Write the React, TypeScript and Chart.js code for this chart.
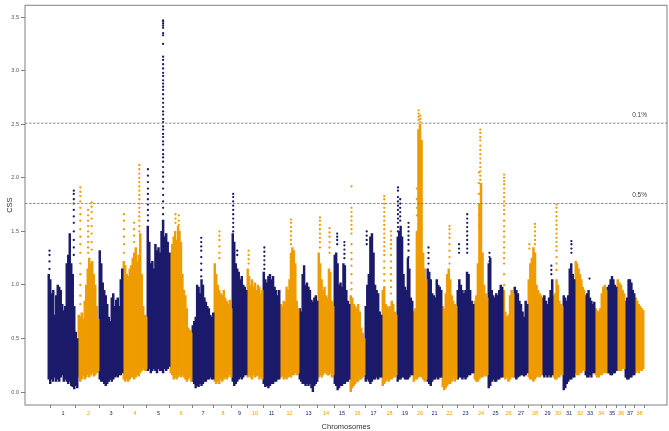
import React, { useEffect, useRef } from "react";
import { Chart, registerables } from "chart.js";

Chart.register(...registerables);

const NAVY = "#1b1a6b";
const ORANGE = "#ef9c00";

const chromosomes = [
  "1", "2", "3", "4", "5", "6", "7", "8", "9", "10", "11", "12", "13", "14", "15", "16", "17", "18", "19",
  "20", "21", "22", "23", "24", "25", "26", "27", "28", "29", "30", "31", "32", "33", "34", "35", "36", "37", "38",
];

const chromLengths = [
  120, 84, 96, 96, 92, 88, 88, 72, 60, 64, 68, 76, 76, 64, 64, 60, 68, 60, 64,
  56, 60, 60, 68, 56, 60, 44, 56, 56, 44, 40, 48, 40, 40, 48, 40, 32, 40, 36,
];

// upper envelope of the dense CSS cloud, successive windows along each chromosome
const bandHigh = [
  [1.1, 1.05, 0.92, 0.95, 0.72, 0.9, 1.0, 0.98, 0.95, 0.82, 0.76, 0.8, 1.2, 1.28, 1.48, 1.2, 1.1, 0.8, 0.56, 0.5],
  [0.72, 0.7, 0.74, 0.68, 0.85, 1.0, 1.15, 1.25, 1.2, 1.22, 1.1, 1.0, 0.8, 0.68],
  [1.32, 1.2, 1.02, 0.95, 0.9, 0.82, 0.7, 0.66, 0.88, 0.92, 0.8, 0.86, 0.88, 0.8, 1.05, 1.15],
  [1.22, 1.18, 1.1, 1.08, 1.15, 1.18, 1.25, 1.3, 1.35, 1.22, 1.28, 1.48, 1.1, 0.8, 0.72, 0.7],
  [1.55, 1.4, 1.2, 1.22, 1.15, 1.38, 1.32, 1.35, 1.3, 1.5, 1.6, 1.45, 1.48, 1.4, 1.3],
  [1.3, 1.38, 1.45, 1.5, 1.42, 1.55, 1.5, 1.4, 1.1, 0.95, 0.9, 0.78, 0.6, 0.58, 0.55],
  [0.62, 0.66, 0.7, 1.0, 0.98, 0.92, 1.05, 1.0, 0.88, 0.84, 0.8, 0.78, 0.72, 0.7, 0.74],
  [1.2, 1.1, 1.0, 0.95, 0.92, 0.9, 0.95, 0.88, 0.85, 0.82, 0.86, 0.78],
  [1.48, 1.4, 1.2, 1.15, 1.12, 1.05, 1.08, 1.0, 0.98, 0.95],
  [1.15, 1.08, 1.0, 1.05, 0.98, 1.02, 0.95, 1.0, 0.98, 0.92, 0.95],
  [1.12, 1.05, 1.02, 1.08, 1.1, 1.05, 1.08, 0.98, 0.95, 0.9, 0.95],
  [0.82, 0.8, 0.85, 0.84, 0.98, 0.95, 1.05, 1.3, 1.35, 1.32, 1.2, 0.85, 0.78],
  [0.78, 0.75, 1.1, 1.18, 1.0, 1.02, 0.98, 0.95, 0.86, 0.84, 0.88, 0.9, 0.85],
  [1.3, 1.2, 1.05, 0.95, 0.98, 0.9, 0.88, 1.15, 1.12, 0.85, 0.8],
  [1.28, 1.3, 1.2, 1.0, 1.02, 0.98, 1.2, 1.18, 0.95, 0.85, 0.82],
  [0.9, 0.88, 0.82, 0.8, 0.78, 0.82, 0.75, 0.6, 0.55, 0.5],
  [0.8, 1.0, 1.1, 1.45, 1.48, 1.3, 1.0, 0.95, 0.92, 0.75, 0.72],
  [0.95, 0.98, 0.82, 0.8, 0.78, 0.8, 0.85, 0.82, 0.75, 0.72],
  [1.45, 1.5, 1.55, 1.45, 1.1, 0.98, 0.95, 1.25, 1.15, 0.88, 0.85],
  [0.75, 0.78, 1.5, 2.45, 2.5, 2.35, 1.3, 1.15, 1.05],
  [1.15, 1.12, 1.05, 0.92, 0.9, 0.88, 1.05, 1.0, 0.98, 0.95],
  [0.8, 0.78, 0.92, 1.1, 1.15, 1.05, 0.9, 0.85, 0.82, 0.8],
  [0.95, 1.05, 1.0, 0.95, 0.92, 0.95, 1.12, 1.1, 0.95, 0.85, 0.82],
  [0.85, 0.9, 1.2, 1.75, 1.95, 1.3, 1.0, 0.92, 0.88],
  [1.2, 1.25, 0.95, 0.9, 0.88, 0.92, 0.9, 0.95, 1.0, 0.98],
  [0.95, 0.75, 0.7, 0.72, 0.9, 0.95, 0.92],
  [0.98, 0.95, 0.92, 0.85, 0.82, 0.75, 0.7, 0.85, 0.82],
  [1.05, 1.2, 1.25, 1.35, 1.3, 1.0, 0.95, 0.92, 0.9],
  [0.88, 0.9, 0.85, 0.82, 0.88, 0.95, 1.05],
  [0.9, 0.92, 1.05, 1.0, 0.85, 0.82, 0.8],
  [0.9, 0.88, 0.85, 0.9, 1.15, 1.2, 1.1, 1.05],
  [1.22, 1.2, 1.15, 1.1, 1.05, 0.98, 0.95],
  [0.9, 0.92, 0.95, 0.88, 0.85, 0.82, 0.84],
  [0.78, 0.76, 0.75, 0.78, 0.92, 0.98, 1.0, 0.95],
  [0.98, 1.0, 1.05, 1.08, 1.05, 1.0, 0.98],
  [1.05, 1.02, 1.0, 0.95, 0.92],
  [0.85, 0.88, 1.05, 1.05, 1.02, 0.95, 0.92],
  [0.88, 0.85, 0.82, 0.8, 0.78, 0.76],
];

// lower envelope of the cloud in the same windows
const bandLow = [
  [0.12, 0.08, 0.12, 0.1, 0.14, 0.1, 0.12, 0.1, 0.14, 0.16, 0.1, 0.12, 0.1, 0.08, 0.1, 0.06, 0.05, 0.03, 0.06, 0.04],
  [0.14, 0.1, 0.12, 0.15, 0.12, 0.14, 0.16, 0.14, 0.16, 0.18, 0.15, 0.16, 0.18, 0.2],
  [0.12, 0.1, 0.1, 0.08, 0.06, 0.08, 0.1, 0.12, 0.1, 0.12, 0.14, 0.15, 0.14, 0.16, 0.16, 0.18],
  [0.12, 0.1, 0.12, 0.1, 0.12, 0.14, 0.14, 0.12, 0.14, 0.16, 0.15, 0.18, 0.2, 0.22, 0.2, 0.22],
  [0.2, 0.22, 0.18, 0.2, 0.22, 0.2, 0.18, 0.22, 0.2, 0.2, 0.18, 0.22, 0.2, 0.22, 0.24],
  [0.18, 0.16, 0.12, 0.14, 0.12, 0.14, 0.16, 0.14, 0.16, 0.14, 0.12, 0.1, 0.12, 0.14, 0.1],
  [0.1, 0.08, 0.04, 0.06, 0.05, 0.08, 0.06, 0.08, 0.1, 0.1, 0.12, 0.12, 0.14, 0.12, 0.12],
  [0.1, 0.08, 0.1, 0.08, 0.12, 0.1, 0.12, 0.14, 0.12, 0.14, 0.16, 0.14],
  [0.1, 0.06, 0.08, 0.1, 0.12, 0.14, 0.12, 0.14, 0.16, 0.16],
  [0.14, 0.16, 0.14, 0.12, 0.16, 0.14, 0.15, 0.16, 0.12, 0.14, 0.12],
  [0.08, 0.05, 0.06, 0.04, 0.06, 0.08, 0.08, 0.1, 0.1, 0.12, 0.12],
  [0.14, 0.15, 0.12, 0.14, 0.12, 0.14, 0.15, 0.14, 0.16, 0.16, 0.18, 0.16, 0.18],
  [0.12, 0.1, 0.08, 0.08, 0.06, 0.08, 0.06, 0.08, 0.04, 0.0, 0.06, 0.08, 0.1],
  [0.14, 0.16, 0.14, 0.16, 0.18, 0.18, 0.16, 0.16, 0.18, 0.14, 0.16],
  [0.08, 0.06, 0.02, 0.04, 0.06, 0.06, 0.08, 0.08, 0.1, 0.1, 0.12],
  [0.0, 0.04, 0.06, 0.08, 0.1, 0.1, 0.12, 0.12, 0.14, 0.16],
  [0.1, 0.12, 0.1, 0.08, 0.1, 0.12, 0.12, 0.14, 0.12, 0.14, 0.14],
  [0.06, 0.08, 0.1, 0.12, 0.1, 0.12, 0.12, 0.14, 0.14, 0.16],
  [0.1, 0.12, 0.12, 0.14, 0.14, 0.12, 0.12, 0.12, 0.14, 0.16, 0.16],
  [0.1, 0.12, 0.12, 0.14, 0.15, 0.14, 0.12, 0.1, 0.12],
  [0.1, 0.08, 0.06, 0.1, 0.12, 0.12, 0.14, 0.12, 0.14, 0.14],
  [0.05, 0.02, 0.04, 0.06, 0.08, 0.08, 0.1, 0.12, 0.1, 0.12],
  [0.12, 0.14, 0.14, 0.12, 0.14, 0.12, 0.14, 0.16, 0.16, 0.18, 0.18],
  [0.12, 0.1, 0.1, 0.12, 0.14, 0.14, 0.16, 0.15, 0.16],
  [0.04, 0.06, 0.1, 0.12, 0.1, 0.1, 0.12, 0.12, 0.14, 0.14],
  [0.14, 0.12, 0.14, 0.1, 0.12, 0.14, 0.14],
  [0.14, 0.12, 0.14, 0.15, 0.16, 0.16, 0.15, 0.16, 0.18],
  [0.14, 0.12, 0.12, 0.1, 0.12, 0.14, 0.15, 0.14, 0.16],
  [0.16, 0.14, 0.16, 0.14, 0.16, 0.14, 0.16],
  [0.14, 0.12, 0.12, 0.14, 0.14, 0.16, 0.16],
  [0.02, 0.04, 0.08, 0.1, 0.12, 0.12, 0.14, 0.14],
  [0.18, 0.16, 0.16, 0.18, 0.18, 0.2, 0.2],
  [0.16, 0.14, 0.14, 0.16, 0.14, 0.18, 0.18],
  [0.16, 0.14, 0.14, 0.16, 0.16, 0.18, 0.18, 0.18],
  [0.18, 0.18, 0.16, 0.16, 0.18, 0.18, 0.2],
  [0.2, 0.2, 0.2, 0.22, 0.22],
  [0.14, 0.12, 0.12, 0.14, 0.14, 0.16, 0.16],
  [0.18, 0.2, 0.18, 0.2, 0.2, 0.22],
];

// isolated SNP streaks above the cloud: [position within chromosome (0-1), CSS values...]
const peakStreaks: number[][][] = [
  [[0.05, 1.32, 1.28, 1.22, 1.15], [0.86, 1.88, 1.85, 1.8, 1.76, 1.7, 1.64, 1.58, 1.5, 1.42, 1.35, 1.28]],
  [[0.11, 1.91, 1.87, 1.83, 1.78, 1.72, 1.66, 1.6, 1.52, 1.45, 1.38, 1.3, 1.2, 1.1, 1.0, 0.9, 0.82], [0.48, 1.7, 1.65, 1.6, 1.55, 1.5, 1.45, 1.4, 1.35, 1.3], [0.65, 1.77, 1.73, 1.68, 1.62, 1.55, 1.48, 1.4, 1.33]],
  [],
  [[0.04, 1.66, 1.6, 1.52, 1.45, 1.38, 1.3], [0.46, 1.58, 1.52, 1.46, 1.4], [0.68, 2.12, 2.08, 2.04, 2.0, 1.96, 1.92, 1.88, 1.84, 1.8, 1.76, 1.72, 1.68, 1.64, 1.6, 1.55, 1.5]],
  [[0.04, 2.08, 2.02, 1.96, 1.9, 1.85, 1.8, 1.75, 1.7, 1.65, 1.6], [0.7, 3.47, 3.46, 3.44, 3.42, 3.4, 3.35, 3.33, 3.25, 3.13, 3.1, 3.06, 3.02, 2.98, 2.95, 2.91, 2.88, 2.85, 2.82, 2.78, 2.74, 2.7, 2.66, 2.62, 2.59, 2.55, 2.52, 2.48, 2.45, 2.41, 2.38, 2.34, 2.31, 2.26, 2.22, 2.19, 2.15, 2.1, 2.05, 2.01, 1.96, 1.9, 1.84, 1.78, 1.72, 1.66, 1.6]],
  [[0.25, 1.66, 1.62, 1.58], [0.4, 1.65, 1.6, 1.56]],
  [[0.42, 1.44, 1.4, 1.36, 1.32, 1.26, 1.2, 1.14, 1.08]],
  [[0.3, 1.5, 1.46, 1.42, 1.36, 1.3, 1.25]],
  [[0.08, 1.85, 1.82, 1.78, 1.74, 1.7, 1.66, 1.62, 1.58, 1.54, 1.5], [0.35, 1.32, 1.28]],
  [[0.1, 1.32, 1.28, 1.24, 1.2]],
  [[0.08, 1.35, 1.31, 1.27, 1.23, 1.19, 1.15]],
  [[0.58, 1.61, 1.58, 1.54, 1.5, 1.46, 1.42, 1.38]],
  [],
  [[0.12, 1.63, 1.6, 1.56, 1.52, 1.48, 1.44, 1.4, 1.35], [0.72, 1.53, 1.49, 1.45, 1.4, 1.35, 1.3]],
  [[0.2, 1.48, 1.45, 1.42, 1.38], [0.65, 1.4, 1.37, 1.33, 1.29, 1.25]],
  [[0.1, 1.92, 1.72, 1.68, 1.64, 1.6, 1.56, 1.52, 1.48, 1.38, 1.3, 1.24, 1.18, 1.1, 1.02, 0.96]],
  [[0.1, 1.5, 1.46, 1.42, 1.38]],
  [[0.15, 1.83, 1.8, 1.76, 1.72, 1.68, 1.64, 1.6, 1.56, 1.52, 1.48, 1.44, 1.4, 1.36, 1.32, 1.28, 1.22, 1.16, 1.1, 1.04, 0.98], [0.6, 1.5, 1.46, 1.42, 1.38, 1.34, 1.28, 1.22, 1.16, 1.1, 1.04, 0.98, 0.92]],
  [[0.06, 1.91, 1.88, 1.82, 1.78, 1.74, 1.7, 1.66, 1.62, 1.58, 1.54, 1.5], [0.2, 1.8, 1.76, 1.72, 1.68, 1.64, 1.6], [0.72, 1.58, 1.54, 1.5, 1.46, 1.42, 1.38, 1.32, 1.26]],
  [[0.4, 2.63, 2.6, 2.57, 2.54], [0.52, 2.58, 2.55, 2.52], [0.28, 1.9, 1.8, 1.72, 1.65]],
  [[0.1, 1.35, 1.3, 1.25, 1.2]],
  [[0.5, 1.55, 1.52, 1.48, 1.44, 1.38, 1.32, 1.26, 1.2]],
  [[0.12, 1.38, 1.34, 1.3], [0.6, 1.66, 1.62, 1.58, 1.54, 1.5, 1.46, 1.42, 1.38, 1.34, 1.3]],
  [[0.45, 2.45, 2.42, 2.38, 2.35, 2.3, 2.26, 2.22, 2.18, 2.14, 2.1, 2.06, 2.02, 1.98], [0.35, 2.05, 1.95, 1.85, 1.75, 1.65, 1.55]],
  [[0.1, 1.3, 1.26, 1.22]],
  [[0.1, 2.03, 2.0, 1.97, 1.94, 1.9, 1.86, 1.82, 1.78, 1.74, 1.7, 1.66, 1.6, 1.55, 1.5, 1.45, 1.4, 1.35, 1.3, 1.25, 1.2, 1.1, 1.0]],
  [],
  [[0.1, 1.38, 1.34], [0.5, 1.57, 1.54, 1.5, 1.46, 1.42, 1.38]],
  [[0.85, 1.18, 1.14, 1.1]],
  [[0.35, 1.75, 1.72, 1.68, 1.64, 1.6, 1.56, 1.52, 1.48, 1.44, 1.4, 1.36, 1.32, 1.26, 1.2, 1.14]],
  [[0.7, 1.41, 1.38, 1.34, 1.3]],
  [],
  [[0.45, 1.06]],
  [],
  [],
  [],
  [],
  [],
];

const yTicks = [0, 0.5, 1, 1.5, 2, 2.5, 3, 3.5];
const thresholds = [2.51, 1.76];
const thresholdLabels = ["0.1%", "0.5%"];

const FONT = "'Liberation Sans', Arial, sans-serif";

export default function App() {
  const ref = useRef<HTMLCanvasElement | null>(null);

  useEffect(() => {
    document.body.style.margin = "0";
    const canvas = ref.current;
    if (!canvas) return;

    const X_MIN = -92;
    const X_MAX = 2476;
    const PLOT_W = 642;
    const pxPerUnit = PLOT_W / (X_MAX - X_MIN);

    const starts: number[] = [];
    let acc = 0;
    chromLengths.forEach((L) => {
      starts.push(acc);
      acc += L;
    });
    const mids = chromLengths.map((L, i) => starts[i] + L / 2);

    const datasets: any[] = [];
    chromLengths.forEach((L, c) => {
      const color = c % 2 === 0 ? NAVY : ORANGE;
      const hi = bandHigh[c];
      const lo = bandLow[c];
      const n = hi.length;
      const step = L / n;
      datasets.push({
        type: "bar",
        data: hi.map((h, i) => ({ x: starts[c] + (i + 0.5) * step, y: [lo[i], h] })),
        backgroundColor: color,
        borderWidth: 0,
        barThickness: step * pxPerUnit + 0.3,
        grouped: false,
      });
      const pts: { x: number; y: number }[] = [];
      peakStreaks[c].forEach((s) => {
        const px = starts[c] + s[0] * L;
        for (let k = 1; k < s.length; k++) pts.push({ x: px, y: s[k] });
      });
      if (pts.length) {
        datasets.push({
          type: "scatter",
          data: pts,
          backgroundColor: color,
          borderWidth: 0,
          pointRadius: 1.15,
          pointHoverRadius: 1.15,
        });
      }
    });

    const framePlugin = {
      id: "frame",
      afterDatasetsDraw(chart: any) {
        const { ctx, chartArea } = chart;
        const y = chart.scales.y;
        ctx.save();
        thresholds.forEach((t, i) => {
          const py = y.getPixelForValue(t);
          ctx.beginPath();
          ctx.setLineDash([2.5, 1.5]);
          ctx.strokeStyle = "#6f6f6f";
          ctx.lineWidth = 0.8;
          ctx.moveTo(chartArea.left, py);
          ctx.lineTo(chartArea.right, py);
          ctx.stroke();
          ctx.setLineDash([]);
          ctx.fillStyle = "#444";
          ctx.font = `6.5px ${FONT}`;
          ctx.textAlign = "right";
          ctx.textBaseline = "bottom";
          ctx.fillText(thresholdLabels[i], chartArea.right - 20, py - 5);
        });
        ctx.strokeStyle = "#808080";
        ctx.lineWidth = 1;
        ctx.strokeRect(chartArea.left, chartArea.top, chartArea.right - chartArea.left, chartArea.bottom - chartArea.top);
        ctx.restore();
      },
    };

    const chart = new Chart(canvas, {
      type: "scatter",
      data: { datasets },
      plugins: [framePlugin],
      options: {
        animation: false,
        responsive: false,
        events: [],
        layout: { padding: { top: 3, right: 2, left: 0, bottom: 0 } },
        plugins: { legend: { display: false }, tooltip: { enabled: false } },
        scales: {
          x: {
            type: "linear",
            min: X_MIN,
            max: X_MAX,
            offset: false,
            afterFit: (s: any) => {
              s.height = 26;
            },
            afterBuildTicks: (s: any) => {
              s.ticks = mids.map((v) => ({ value: v }));
            },
            ticks: {
              autoSkip: false,
              maxRotation: 0,
              padding: 2,
              font: { size: 5.5, family: FONT },
              color: (ctx: any) => (ctx.index % 2 === 0 ? NAVY : ORANGE),
              callback: (_v: any, i: number) => chromosomes[i],
            },
            grid: { drawOnChartArea: false, drawTicks: true, tickLength: 3, color: "#808080" },
            border: { display: false },
            title: {
              display: true,
              text: "Chromosomes",
              color: "#333",
              font: { size: 7.5, family: FONT },
              padding: { top: 0, bottom: 0 },
            },
          },
          y: {
            type: "linear",
            min: -0.12,
            max: 3.61,
            afterFit: (s: any) => {
              s.width = 25;
            },
            afterBuildTicks: (s: any) => {
              s.ticks = yTicks.map((v) => ({ value: v }));
            },
            ticks: {
              padding: 2,
              font: { size: 5.5, family: FONT },
              color: "#555",
              callback: (v: any) => Number(v).toFixed(1),
            },
            grid: { drawOnChartArea: false, drawTicks: true, tickLength: 4, color: "#808080" },
            border: { display: false },
            title: {
              display: true,
              text: "CSS",
              color: "#333",
              font: { size: 7.5, family: FONT },
              padding: { top: 5, bottom: 0 },
            },
          },
        },
      },
    });

    return () => chart.destroy();
  }, []);

  return <canvas ref={ref} width={669} height={431} style={{ display: "block" }} />;
}
